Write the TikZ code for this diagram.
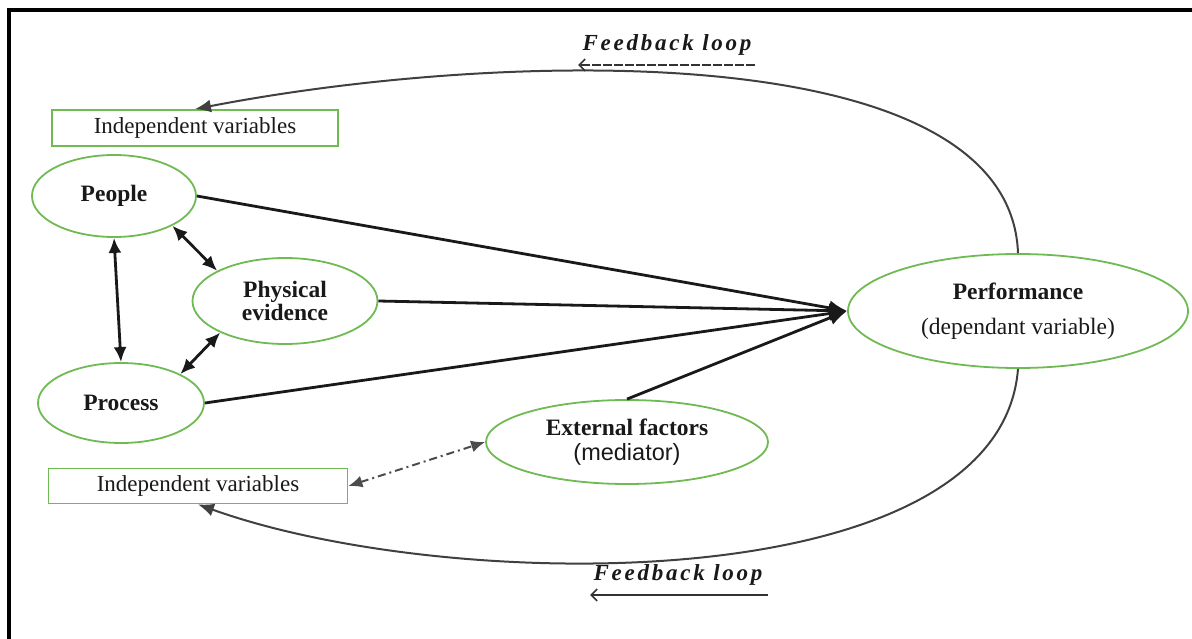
\documentclass[tikz,border=0pt]{standalone}
\usepackage{fontspec}
\setmainfont{Liberation Serif}
\newfontfamily\sansf{Liberation Sans}
\newfontfamily\fbfont[LetterSpace=12]{Liberation Serif}
\usetikzlibrary{shapes.geometric,arrows.meta}
\definecolor{grn}{RGB}{112,186,84}
\definecolor{ink}{RGB}{25,25,25}
\begin{document}
\begin{tikzpicture}[x=1pt,y=-1pt,
  ell/.style={ellipse, draw=grn, line width=1.8pt, inner sep=0pt, text=ink, font=\fontsize{23.5}{23}\selectfont\bfseries, align=center},
  vbox/.style={rectangle, draw=grn, line width=1.8pt, inner sep=0pt, text=ink, font=\fontsize{23}{24}\selectfont},
  link/.style={line width=2.8pt, draw=ink, -{Latex[length=18pt,width=15pt]}},
  both/.style={line width=2.8pt, draw=ink, {Latex[length=15pt,width=13pt]}-{Latex[length=15pt,width=13pt]}},
  dashboth/.style={line width=2pt, draw=black!70, dash pattern=on 8pt off 4pt on 2pt off 4pt, {Latex[length=14pt,width=12pt]}-{Latex[length=14pt,width=12pt]}},
  fb/.style={line width=2pt, draw=black!75, -{Latex[length=16pt,width=13pt]}},
  fbarrow/.style={line width=1.6pt, draw=black!80, -{Straight Barb[length=6pt,width=12pt]}},
  fbtext/.style={font=\fbfont\fontsize{23}{23}\selectfont\bfseries\itshape, text=ink},
]
\useasboundingbox (0,0) rectangle (1192,639);
\draw[line width=3.5pt] (9,639) -- (9,10) -- (1192,10);

\node[vbox, minimum width=286pt, minimum height=36pt] (top) at (195,128) {Independent variables};
\node[vbox, minimum width=299pt, minimum height=35pt] (bot) at (198,486) {Independent variables};
\node[ell, minimum width=164pt, minimum height=82pt] (people) at (114,196) {People};
\node[ell, minimum width=185pt, minimum height=86pt] (phys) at (285,301) {Physical\\evidence};
\node[ell, minimum width=166pt, minimum height=80pt] (proc) at (121,403) {Process};
\node[ell, minimum width=282pt, minimum height=84pt] (ext) at (627,442) {External factors\\[2pt]{\sansf\mdseries (mediator)}};
\node[ell, minimum width=340pt, minimum height=114pt] (perf) at (1018,311) {Performance\\[12pt]{\mdseries (dependant variable)}};

\draw[link] (people.east) -- (perf.west);
\draw[link] (phys.east) -- (perf.west);
\draw[link] (proc.east) -- (perf.west);
\draw[link] (ext.north) -- (perf.west);
\draw[both] (people.south) -- (proc.north);
\draw[both] (people.-27) -- (phys.156);
\draw[both] (phys.206) -- (proc.26);
\draw[dashboth] (bot.east) -- (ext.west);

\draw[fb] (perf.north) .. controls (1010,35) and (500,50) .. (top.north);
\draw[fb] (perf.south) .. controls (1000,600) and (450,595) .. (bot.south);

\node[fbtext] (fbt) at (667,45) {Feedback loop};
\coordinate (fa1) at (755,65);
\coordinate (fa2) at (578,65);
\draw[fbarrow, dash pattern=on 9pt off 2pt] (fa1) -- (fa2);
\node[fbtext] (fbb) at (678,575) {Feedback loop};
\coordinate (fb1) at (768,595);
\coordinate (fb2) at (590,595);
\draw[fbarrow] (fb1) -- (fb2);
\end{tikzpicture}
\end{document}
